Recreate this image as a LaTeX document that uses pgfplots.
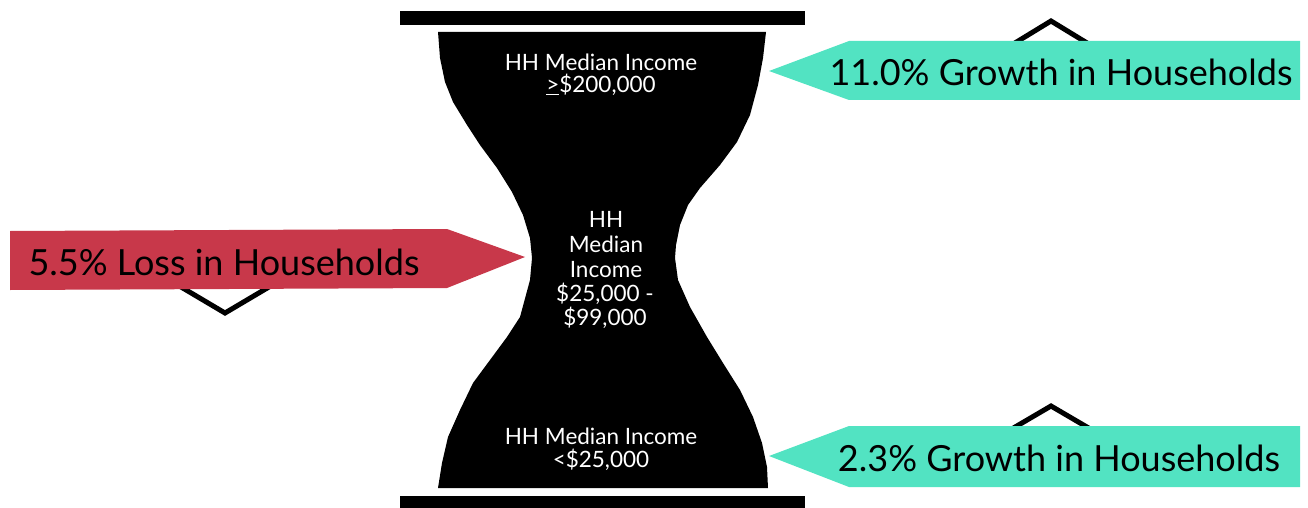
\documentclass[border=0pt]{standalone}
\usepackage{pgfplots}
\pgfplotsset{compat=1.18}
\usepackage{fontspec}
\setmainfont{Lato}
\definecolor{grn}{HTML}{52E3C2}
\definecolor{redarr}{HTML}{C8384A}
\begin{document}
\begin{tikzpicture}
\begin{axis}[x=1pt, y=1pt, y dir=reverse,
  xmin=0, xmax=1308, ymin=0, ymax=508,
  hide axis, clip=false, scale only axis]
% bars
\addplot[fill=black, draw=none] coordinates {(400,11) (805,11) (805,25) (400,25)} --cycle;
\addplot[fill=black, draw=none] coordinates {(400,496) (805,496) (805,508) (400,508)} --cycle;
% hourglass
\addplot[fill=black, draw=none] coordinates {
(438,32) (440,58) (445,82) (453,102) (467,125) (480,145) (497,168) (512,192) (523,215) (530,238) (532,258)
(530,280) (520,317) (507,337) (490,360) (473,383) (460,410) (448,437) (442,463) (438,488)
(768,488) (767,467) (762,443) (753,417) (740,390) (723,363) (707,337) (690,307) (678,280) (675,258)
(676,245) (680,225) (688,205) (700,188) (720,165) (737,142) (750,115) (758,85) (763,58) (766,32)
} --cycle;
% chevrons
\addplot[black, line width=5pt, miter limit=10] coordinates {(1010,46) (1051,21) (1092,46)};
\addplot[black, line width=5pt, miter limit=10] coordinates {(1010,430) (1051,406) (1092,430)};
\addplot[black, line width=5pt, miter limit=10] coordinates {(176,284) (225,313) (274,284)};
% arrows
\addplot[fill=grn, draw=none] coordinates {(769,71) (849,41) (1300,41) (1300,100) (849,100)} --cycle;
\addplot[fill=grn, draw=none] coordinates {(769,456) (849,426) (1300,426) (1300,487) (849,487)} --cycle;
\addplot[fill=redarr, draw=none] coordinates {(10,231) (447,229) (525,257) (447,288) (10,290)} --cycle;
% arrow texts
\node[anchor=base, inner sep=0pt, font=\fontsize{36}{40}\selectfont] at (axis cs:1061,86) {11.0\% Growth in Households};
\node[anchor=base, inner sep=0pt, font=\fontsize{36}{40}\selectfont] at (axis cs:1059,471) {2.3\% Growth in Households};
\node[anchor=base, inner sep=0pt, font=\fontsize{36}{40}\selectfont] at (axis cs:224,275) {5.5\% Loss in Households};
% hourglass texts
\tikzset{hg/.style={anchor=base, inner sep=0pt, white, font=\fontsize{22.5}{24}\selectfont}}
\node[hg] at (axis cs:601,71) {HH Median Income};
\node[hg] at (axis cs:601,93) {\underline{>}\$200,000};
\node[hg] at (axis cs:606,227) {HH};
\node[hg] at (axis cs:606,252) {Median};
\node[hg] at (axis cs:606,277) {Income};
\node[hg] at (axis cs:605,301) {\$25,000 -};
\node[hg] at (axis cs:605,325) {\$99,000};
\node[hg] at (axis cs:601,444) {HH Median Income};
\node[hg] at (axis cs:601,467) {<\$25,000};
\end{axis}
\pgfresetboundingbox
\path[use as bounding box] (current axis.south west) rectangle (current axis.north east);
\end{tikzpicture}
\end{document}
